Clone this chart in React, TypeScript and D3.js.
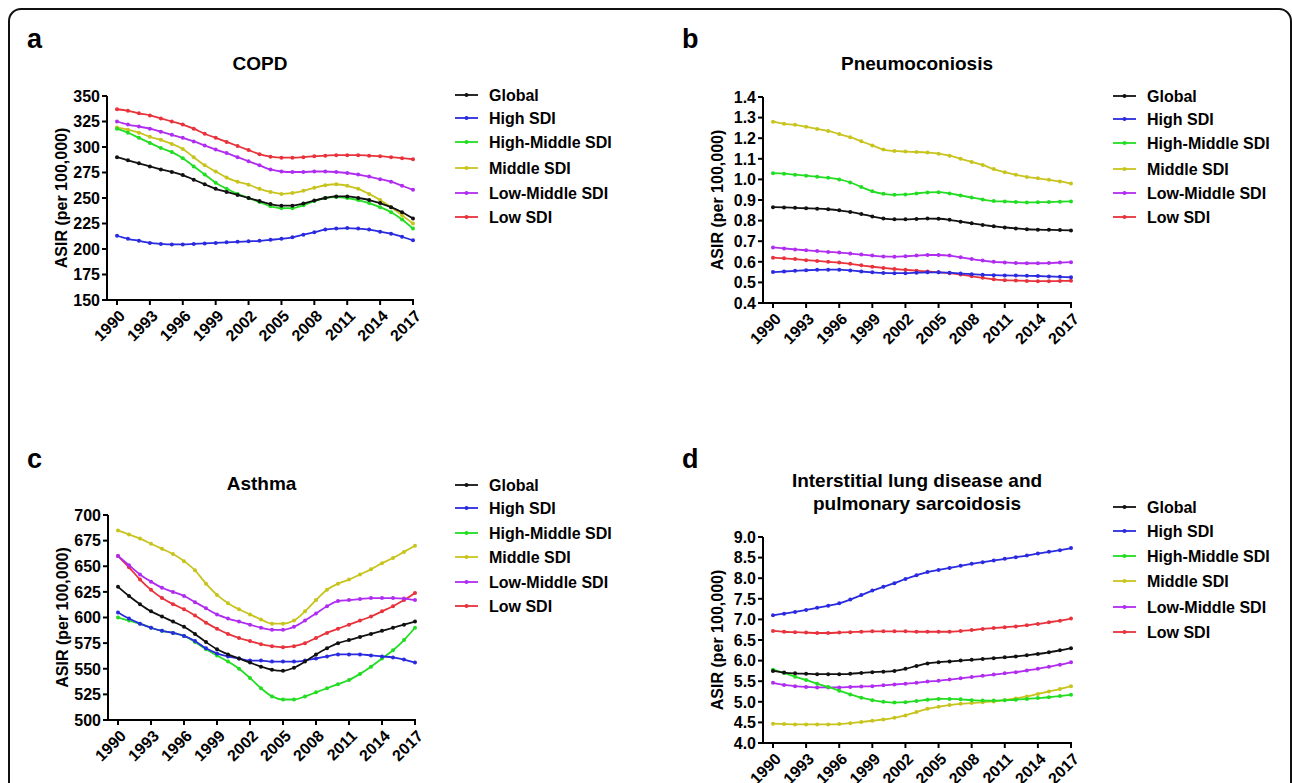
import * as d3 from "d3";

const years = d3.range(1990, 2018);
const yearTicks = [1990, 1993, 1996, 1999, 2002, 2005, 2008, 2011, 2014, 2017];
const seriesNames = ["Global", "High SDI", "High-Middle SDI", "Middle SDI", "Low-Middle SDI", "Low SDI"];
const seriesColors = ["#111111", "#2a2ae0", "#22dd22", "#c8c41e", "#b02cf0", "#e8323c"];

// a: COPD
const copdGlobal = [290, 287, 284, 281, 278, 275.5, 272.5, 268, 263.5, 259, 256, 253, 250, 247, 244, 242.5, 242.5, 244.5, 247.5, 250, 251.5, 251.5, 250, 248, 245, 241, 236, 230];
const copdHigh = [213, 210, 208, 206, 205, 204.5, 204.5, 205, 205.5, 206, 206.5, 207, 207.5, 208, 209, 210, 211.5, 214, 216.5, 219, 220, 220.5, 220, 219, 217, 215, 212, 208.5];
const copdHighMiddle = [318, 314, 309, 304, 299, 295, 289, 281, 273, 265, 259, 254, 250, 246, 242, 240, 240, 243, 247, 250, 251, 250, 248, 245, 241, 236, 229, 220];
const copdMiddle = [319, 317, 314, 310, 307, 303, 298, 290, 282, 276, 270, 266, 263, 259, 256, 254, 255, 257, 260, 262.5, 263.5, 262, 259, 254, 248, 241, 233, 225];
const copdLowMiddle = [325, 322, 320, 318, 315, 312, 309, 305.5, 301.5, 297.5, 294, 290, 286, 282, 278, 276, 275.5, 275.5, 276, 276, 275.5, 274.5, 273, 271, 268.5, 266, 262, 258];
const copdLow = [337, 335.5, 333, 331, 328, 325, 322, 318, 313, 309, 305, 301, 297, 293, 290.5, 289.5, 289.5, 290, 291, 291.5, 292, 292, 292, 291.5, 291, 290, 289, 288];

// b: Pneumoconiosis
const pneuGlobal = [0.865, 0.864, 0.862, 0.86, 0.858, 0.855, 0.85, 0.842, 0.832, 0.82, 0.81, 0.806, 0.806, 0.808, 0.81, 0.809, 0.804, 0.795, 0.787, 0.779, 0.772, 0.767, 0.762, 0.758, 0.756, 0.755, 0.754, 0.752];
const pneuHigh = [0.55, 0.553, 0.556, 0.559, 0.561, 0.562, 0.562, 0.558, 0.553, 0.549, 0.546, 0.545, 0.545, 0.547, 0.549, 0.549, 0.547, 0.543, 0.54, 0.537, 0.535, 0.534, 0.533, 0.532, 0.531, 0.529, 0.527, 0.525];
const pneuHighMiddle = [1.03, 1.028, 1.023, 1.018, 1.013, 1.008, 1.0, 0.985, 0.963, 0.942, 0.93, 0.925, 0.927, 0.932, 0.937, 0.938, 0.932, 0.922, 0.912, 0.902, 0.895, 0.893, 0.89, 0.888, 0.889, 0.89, 0.892, 0.893];
const pneuMiddle = [1.28, 1.27, 1.265, 1.255, 1.245, 1.235, 1.22, 1.205, 1.185, 1.165, 1.145, 1.138, 1.135, 1.133, 1.13, 1.125, 1.115, 1.1, 1.085, 1.07, 1.05, 1.035, 1.022, 1.012, 1.005, 0.998, 0.99, 0.98];
const pneuLowMiddle = [0.67, 0.665, 0.66, 0.656, 0.652, 0.648, 0.645, 0.64, 0.635, 0.63, 0.626, 0.625, 0.627, 0.63, 0.633, 0.633, 0.63, 0.622, 0.613, 0.606, 0.6, 0.597, 0.594, 0.593, 0.593, 0.594, 0.596, 0.598];
const pneuLow = [0.62, 0.617, 0.613, 0.608, 0.604, 0.6, 0.596, 0.59, 0.583, 0.576, 0.57, 0.565, 0.561, 0.557, 0.553, 0.549, 0.545, 0.538, 0.53, 0.522, 0.515, 0.511, 0.509, 0.507, 0.506, 0.506, 0.507, 0.508];

// c: Asthma
const asthGlobal = [630, 621, 613, 606, 601, 596, 591, 584, 576, 569, 564, 560, 556, 552, 549, 548, 551, 557, 564, 570, 575, 578, 581, 584, 587, 590, 593, 596];
const asthHigh = [605, 599, 594, 590, 587, 585, 582, 577, 570, 565, 562, 560, 558, 558, 557, 557, 557, 558, 560, 562, 564, 564, 564, 563, 562, 561, 559, 556];
const asthHighMiddle = [600, 597, 594, 590, 587, 585, 582, 576, 569, 563, 557, 550, 541, 531, 523, 520, 520, 523, 527, 531, 535, 539, 545, 552, 560, 568, 578, 590];
const asthMiddle = [685, 681, 677, 672, 667, 662, 655, 646, 633, 622, 614, 608, 603, 598, 594, 594, 597, 606, 617, 627, 633, 637, 642, 647, 653, 658, 664, 670];
const asthLowMiddle = [660, 651, 642, 635, 629, 625, 621, 615, 609, 603, 599, 596, 593, 590, 588, 588, 591, 597, 604, 611, 616, 617, 618, 619, 619, 619, 618.5, 617];
const asthLow = [660, 649, 637, 627, 619, 613, 608, 602, 595, 589, 584, 580, 577, 574, 572, 571, 572, 575, 580, 585, 589, 593, 597, 601, 606, 611, 617, 624];

// d: Interstitial lung disease and pulmonary sarcoidosis
const ildGlobal = [5.75, 5.71, 5.69, 5.68, 5.67, 5.67, 5.67, 5.68, 5.7, 5.72, 5.73, 5.75, 5.8, 5.87, 5.93, 5.96, 5.98, 6.0, 6.02, 6.04, 6.06, 6.08, 6.1, 6.13, 6.16, 6.2, 6.25, 6.3];
const ildHigh = [7.1, 7.14, 7.18, 7.23, 7.28, 7.33, 7.39, 7.48, 7.59, 7.7, 7.79, 7.88, 7.98, 8.07, 8.15, 8.2, 8.25, 8.3, 8.35, 8.39, 8.43, 8.47, 8.51, 8.55, 8.6, 8.64, 8.68, 8.73];
const ildHighMiddle = [5.78, 5.7, 5.61, 5.53, 5.44, 5.36, 5.27, 5.18, 5.1, 5.04, 5.0, 4.98, 4.99, 5.02, 5.05, 5.07, 5.07, 5.06, 5.04, 5.03, 5.03, 5.04, 5.05, 5.07, 5.09, 5.11, 5.14, 5.17];
const ildMiddle = [4.47, 4.46, 4.45, 4.45, 4.45, 4.45, 4.46, 4.48, 4.51, 4.54, 4.57, 4.61, 4.67, 4.75, 4.83, 4.88, 4.92, 4.95, 4.97, 4.99, 5.01, 5.04, 5.08, 5.13, 5.19, 5.25, 5.31, 5.38];
const ildLowMiddle = [5.46, 5.41, 5.38, 5.36, 5.35, 5.35, 5.35, 5.36, 5.37, 5.38, 5.4, 5.42, 5.44, 5.46, 5.49, 5.51, 5.54, 5.57, 5.6, 5.63, 5.66, 5.69, 5.72, 5.76, 5.8, 5.85, 5.9, 5.96];
const ildLow = [6.72, 6.7, 6.69, 6.68, 6.67, 6.67, 6.68, 6.69, 6.7, 6.71, 6.71, 6.71, 6.71, 6.7, 6.7, 6.7, 6.7, 6.72, 6.74, 6.77, 6.79, 6.81, 6.83, 6.86, 6.89, 6.93, 6.97, 7.02];

const copdTicks = d3.range(150, 351, 25);
const pneuTicks = d3.range(4, 15).map((d) => d / 10);
const asthTicks = d3.range(500, 701, 25);
const ildTicks = d3.range(8, 19).map((d) => d / 2);

const FONT = "'Liberation Sans', Arial, sans-serif";

interface PanelProps {
  letter: string;
  title: string[];
  series: number[][];
  ticks: number[];
  fmt: (v: number) => string;
  axisX: number;
  x0: number;
  x1: number;
  yTop: number;
  yBot: number;
  letterX: number;
  letterY: number;
  titleY: number;
  legendX: number;
  legendRows: number[];
}

const Panel = (p: PanelProps) => {
  const x = d3.scaleLinear().domain([1990, 2017]).range([p.x0, p.x1]);
  const y = d3
    .scaleLinear()
    .domain([p.ticks[0], p.ticks[p.ticks.length - 1]])
    .range([p.yBot, p.yTop]);
  const line = d3
    .line<number>()
    .x((_, i) => x(years[i]))
    .y((d) => y(d))
    .curve(d3.curveMonotoneX);
  const titleCx = (p.axisX + p.x1) / 2;
  const order = [5, 4, 3, 2, 1, 0];

  return (
    <g fontFamily={FONT} fontWeight="bold">
      <text x={p.letterX} y={p.letterY} fontSize={27}>
        {p.letter}
      </text>
      {p.title.map((t, i) => (
        <text key={t} x={titleCx} y={p.titleY + i * 23} fontSize={19} textAnchor="middle">
          {t}
        </text>
      ))}
      <text
        transform={`translate(${p.axisX - 46},${(p.yTop + p.yBot) / 2}) rotate(-90)`}
        textAnchor="middle"
        dy="0.35em"
        fontSize={16}
      >
        ASIR (per 100,000)
      </text>

      {order.map((k) => (
        <g key={k}>
          <path d={line(p.series[k]) ?? ""} fill="none" stroke={seriesColors[k]} strokeWidth={1.8} />
          {p.series[k].map((v, i) => (
            <circle key={i} cx={x(years[i])} cy={y(v)} r={2} fill={seriesColors[k]} />
          ))}
        </g>
      ))}

      {/* y axis */}
      <line x1={p.axisX} x2={p.axisX} y1={p.yTop} y2={p.yBot} stroke="#000" strokeWidth={2} />
      {p.ticks.map((t) => (
        <g key={t} transform={`translate(${p.axisX},${y(t)})`}>
          <line x1={-5} x2={0} stroke="#000" strokeWidth={2} />
          <text x={-7} dy="0.36em" textAnchor="end" fontSize={16}>
            {p.fmt(t)}
          </text>
        </g>
      ))}

      {/* x axis */}
      <line x1={p.axisX - 1} x2={x(2017) + 1} y1={p.yBot} y2={p.yBot} stroke="#000" strokeWidth={2} />
      {yearTicks.map((t) => (
        <g key={t} transform={`translate(${x(t)},${p.yBot})`}>
          <line y1={0} y2={5} stroke="#000" strokeWidth={2} />
          <text
            transform="translate(5,13) rotate(-45)"
            textAnchor="end"
            dy="0.35em"
            fontSize={16}
          >
            {t}
          </text>
        </g>
      ))}

      {/* legend */}
      {seriesNames.map((name, k) => (
        <g key={name} transform={`translate(${p.legendX},${p.legendRows[k]})`}>
          <line x1={0} x2={23} stroke={seriesColors[k]} strokeWidth={1.8} />
          <circle cx={11.5} cy={0} r={2} fill={seriesColors[k]} />
          <text x={34} dy="0.36em" fontSize={16}>
            {name}
          </text>
        </g>
      ))}
    </g>
  );
};

const f0 = d3.format("d");
const f1 = d3.format(".1f");

export default function App() {
  return (
    <svg width={1292} height={783} style={{ position: "absolute", left: 0, top: 0, background: "#fff" }}>
      <rect x={0} y={0} width={1292} height={783} fill="#fff" />
      <rect x={9} y={9} width={1282} height={800} rx={12} fill="none" stroke="#111" strokeWidth={2} />
      <Panel
        letter="a"
        title={["COPD"]}
        series={[copdGlobal, copdHigh, copdHighMiddle, copdMiddle, copdLowMiddle, copdLow]}
        ticks={copdTicks}
        fmt={f0}
        axisX={107}
        x0={117}
        x1={413}
        yTop={96}
        yBot={300}
        letterX={27}
        letterY={48}
        titleY={70}
        legendX={455}
        legendRows={[95, 118, 142, 168, 193, 217]}
      />
      <Panel
        letter="b"
        title={["Pneumoconiosis"]}
        series={[pneuGlobal, pneuHigh, pneuHighMiddle, pneuMiddle, pneuLowMiddle, pneuLow]}
        ticks={pneuTicks}
        fmt={f1}
        axisX={763}
        x0={773}
        x1={1071}
        yTop={97}
        yBot={303}
        letterX={682}
        letterY={48}
        titleY={70}
        legendX={1113}
        legendRows={[96, 119, 143, 169, 193, 217]}
      />
      <Panel
        letter="c"
        title={["Asthma"]}
        series={[asthGlobal, asthHigh, asthHighMiddle, asthMiddle, asthLowMiddle, asthLow]}
        ticks={asthTicks}
        fmt={f0}
        axisX={108}
        x0={118}
        x1={415}
        yTop={515}
        yBot={720}
        letterX={27}
        letterY={468}
        titleY={490}
        legendX={455}
        legendRows={[485, 508, 533, 557, 582, 606]}
      />
      <Panel
        letter="d"
        title={["Interstitial lung disease and", "pulmonary sarcoidosis"]}
        series={[ildGlobal, ildHigh, ildHighMiddle, ildMiddle, ildLowMiddle, ildLow]}
        ticks={ildTicks}
        fmt={f1}
        axisX={763}
        x0={773}
        x1={1071}
        yTop={537}
        yBot={743}
        letterX={682}
        letterY={468}
        titleY={487}
        legendX={1113}
        legendRows={[507, 531, 556, 581, 607, 632]}
      />
    </svg>
  );
}
